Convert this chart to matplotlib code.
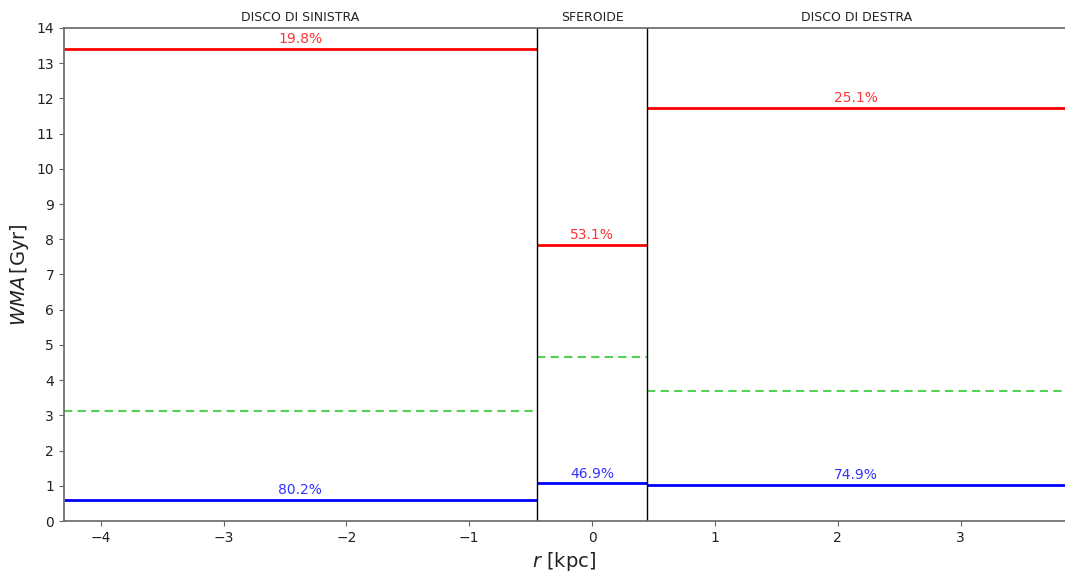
import matplotlib
matplotlib.use("Agg")
import matplotlib.pyplot as plt

# Region boundaries along r [kpc]
x_min, x_max = -4.3, 3.85
r_bounds = [-0.45, 0.45]
regions = ["DISCO DI SINISTRA", "SFEROIDE", "DISCO DI DESTRA"]

# Weighted mean ages [Gyr] per region
wma_old = [13.41, 7.83, 11.73]     # red
wma_young = [0.60, 1.07, 1.02]     # blue
wma_total = [3.13, 4.66, 3.69]     # green dashed

# Mass fractions [%]
frac_old = [19.8, 53.1, 25.1]
frac_young = [80.2, 46.9, 74.9]

edges = [x_min, r_bounds[0], r_bounds[1], x_max]

fig = plt.figure(figsize=(10.65, 5.74), dpi=100)
ax = fig.add_axes([0.060, 0.0923, 0.940, 0.859])

for i in range(3):
    x0, x1 = edges[i], edges[i + 1]
    xc = 0.5 * (x0 + x1)
    ax.hlines(wma_old[i], x0, x1, colors="red", lw=2)
    ax.hlines(wma_young[i], x0, x1, colors="blue", lw=2)
    ax.hlines(wma_total[i], x0, x1, colors="#44cc44", lw=1.5,
              linestyles=(0, (4, 2.5)), alpha=0.9)
    ax.text(xc, wma_old[i] + 0.08, f"{frac_old[i]:.1f}%", color="red",
            alpha=0.8, ha="center", va="bottom", fontsize=10)
    ax.text(xc, wma_young[i] + 0.08, f"{frac_young[i]:.1f}%", color="blue",
            alpha=0.8, ha="center", va="bottom", fontsize=10)
    ax.text(xc, 14.12, regions[i], ha="center", va="bottom",
            fontsize=9, color="#222222")

for xb in r_bounds:
    ax.axvline(xb, color="black", lw=1)

ax.set_xlim(x_min, x_max)
ax.set_ylim(0, 14)
ax.set_yticks(range(0, 15))
ax.set_xticks([-4, -3, -2, -1, 0, 1, 2, 3])

for sp in ax.spines.values():
    sp.set_color("#666666")
    sp.set_linewidth(1.2)
ax.spines["right"].set_visible(False)
ax.tick_params(colors="#222222", labelsize=10)
ax.tick_params(axis="both", color="#666666")

ax.set_xlabel(r"$r$ [kpc]", fontsize=14, color="#222222")
ax.set_ylabel(r"$WMA\,[\mathrm{Gyr}]$", fontsize=14, color="#222222")

fig.savefig("out.png", dpi=100)
